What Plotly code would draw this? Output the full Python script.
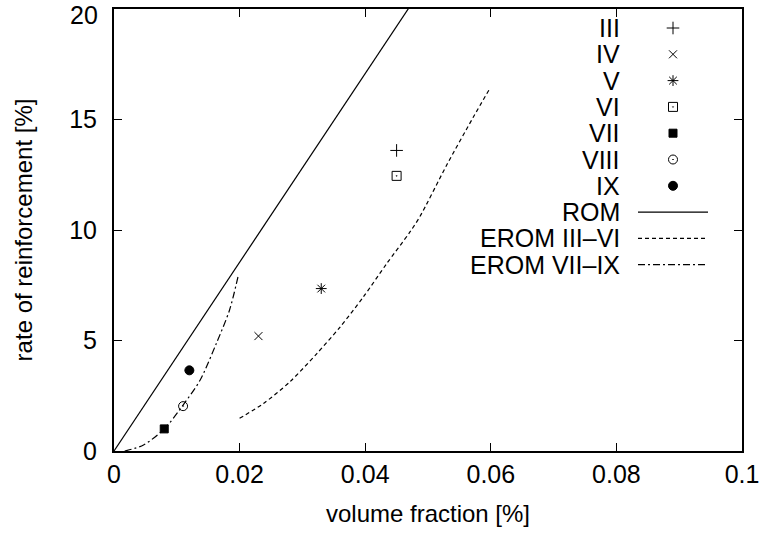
import plotly.graph_objects as go

# measured points (volume fraction, rate of reinforcement)
names = ["III", "IV", "V", "VI", "VII", "VIII", "IX"]
vol_frac = [0.045, 0.023, 0.033, 0.045, 0.008, 0.011, 0.012]
rate = [13.6, 5.2, 7.35, 12.45, 1.0, 2.03, 3.65]
symbols = ["cross-thin", "x-thin", "asterisk", "square-open-dot", "square",
           "circle-open-dot", "circle"]
sizes = [9, 8, 9, 9, 8, 9, 9]

# rule of mixtures
rom_x = [0.0, 0.1]
rom_y = [0.0, 42.7]

# extended rule of mixtures curves
erom1_x = [0.02, 0.0238, 0.028, 0.0323, 0.036, 0.0397, 0.0434, 0.0471, 0.0487,
           0.053, 0.0572, 0.0598]
erom1_y = [1.48, 2.15, 3.13, 4.41, 5.61, 6.97, 8.47, 9.9, 10.6, 12.95, 15.1, 16.38]
erom2_x = [0.0017, 0.0047, 0.0081, 0.011, 0.0137, 0.0163, 0.0184, 0.0198]
erom2_y = [0.0, 0.27, 1.03, 2.08, 3.2, 4.87, 6.38, 7.95]

line_names = ["ROM", "EROM III\u2013VI", "EROM VII\u2013IX"]
line_dash = ["solid", "4px,3px", "7px,3px,2px,3px"]

y_ticks = [0, 5, 10, 15, 20]
x_ticks = [0, 0.02, 0.04, 0.06, 0.08, 0.1]
x_labels = ["0", "0.02", "0.04", "0.06", "0.08", "0.1"]

FONT = "Liberation Sans, Arial, Helvetica, sans-serif"
W, H = 760, 536
L, R, T, B = 114, 18, 9, 85
pw, ph = W - L - R, H - T - B

fig = go.Figure()

for i in range(len(names)):
    fig.add_trace(go.Scatter(
        x=[vol_frac[i]], y=[rate[i]], mode="markers", name=names[i],
        marker=dict(symbol=symbols[i], size=sizes[i], color="black",
                    line=dict(color="black", width=1)),
        showlegend=False))

for lx, ly, nm, ds in zip([rom_x, erom1_x, erom2_x], [rom_y, erom1_y, erom2_y],
                          line_names, line_dash):
    fig.add_trace(go.Scatter(x=lx, y=ly, mode="lines", name=nm,
                             line=dict(color="black", width=1.2, dash=ds,
                                       shape="spline" if nm != "ROM" else "linear",
                                       smoothing=0.8),
                             showlegend=False))

# gnuplot-style key: text right aligned, sample on the right
row0, step = 28, 26.3
text_x = (621 - L) / pw
mark_x = (673 - L) / pw
ln_x0, ln_x1 = (638 - L) / pw, (708 - L) / pw
all_names = names + line_names
for k, nm in enumerate(all_names):
    yp = (H - B - (row0 + step * k)) / ph
    fig.add_annotation(x=text_x, y=yp, xref="paper", yref="paper", text=nm,
                       showarrow=False, xanchor="right", yanchor="middle",
                       borderpad=0,
                       font=dict(family=FONT, size=25, color="black"))
    if k < len(names):
        fig.add_trace(go.Scatter(
            x=[mark_x], y=[yp], xaxis="x2", yaxis="y2", mode="markers",
            marker=dict(symbol=symbols[k], size=sizes[k], color="black",
                        line=dict(color="black", width=1)),
            showlegend=False, cliponaxis=False, hoverinfo="skip"))
    else:
        j = k - len(names)
        fig.add_shape(type="line", xref="paper", yref="paper",
                      x0=ln_x0, x1=ln_x1, y0=yp, y1=yp,
                      line=dict(color="black", width=1.2, dash=line_dash[j]))

# top y label drawn separately so it stays inside the page
y_labels = [str(v) for v in y_ticks[:-1]] + [""]
fig.add_annotation(x=0, y=y_ticks[-1], xref="paper", yref="y", text=str(y_ticks[-1]),
                   showarrow=False, xanchor="right", yanchor="top", xshift=-15,
                   yshift=T, borderpad=0, font=dict(family=FONT, size=25, color="black"))

axis_common = dict(showgrid=False, zeroline=False, showline=True, linecolor="black",
                   linewidth=2, mirror="allticks", ticks="inside", ticklen=8,
                   tickwidth=1, tickcolor="black", automargin=False,
                   ticklabeloverflow="allow",
                   tickfont=dict(family=FONT, size=25, color="black"))

fig.update_layout(
    width=W, height=H, margin=dict(l=L, r=R, t=T, b=B),
    paper_bgcolor="white", plot_bgcolor="white",
    font=dict(family=FONT, size=25, color="black"),
    xaxis=dict(range=[0, 0.1], tickvals=x_ticks, ticktext=x_labels,
               ticklabelstandoff=0,
               title=dict(text="volume fraction [%]", standoff=18,
                          font=dict(family=FONT, size=24)),
               **axis_common),
    yaxis=dict(range=[0, 20], tickvals=y_ticks, ticktext=y_labels,
               ticklabelstandoff=10,
               title=dict(text="rate of reinforcement [%]", standoff=30,
                          font=dict(family=FONT, size=24)),
               **axis_common),
    xaxis2=dict(overlaying="x", range=[0, 1], visible=False),
    yaxis2=dict(overlaying="y", range=[0, 1], visible=False),
    showlegend=False,
)

fig.write_html("out.html", config={"displayModeBar": False},
               post_script="document.body.style.margin='0';")
